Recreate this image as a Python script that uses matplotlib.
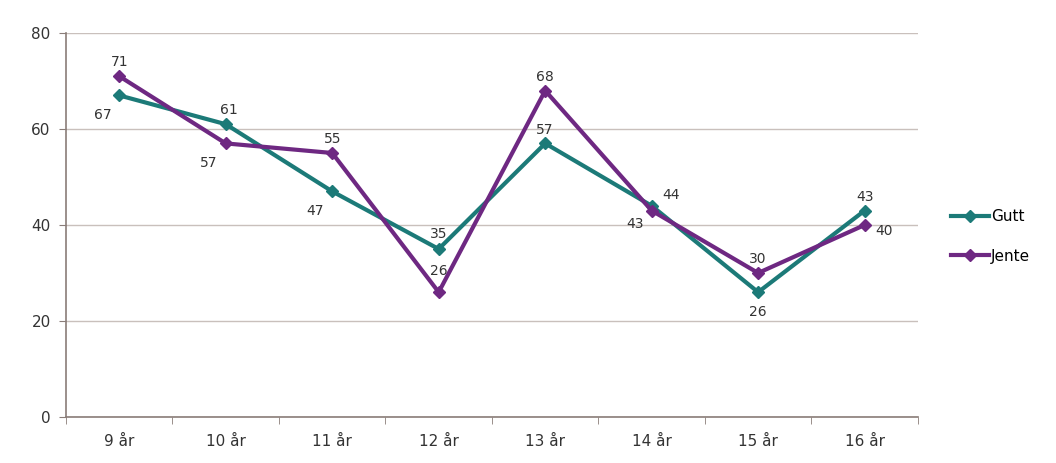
import matplotlib.pyplot as plt
import numpy as np

categories = ["9 år", "10 år", "11 år", "12 år", "13 år", "14 år", "15 år", "16 år"]
gutt  = [67, 61, 47, 35, 57, 44, 26, 43]
jente = [71, 57, 55, 26, 68, 43, 30, 40]

# label offsets in points (dx, dy)
gutt_off  = [(-12, -14), (2, 10), (-12, -14), (0, 11), (0, 10), (14, 8), (0, -14), (0, 10)]
jente_off = [(0, 10), (-12, -14), (0, 10), (0, 15), (0, 10), (-12, -10), (0, 10), (14, -4)]

c_gutt = "#1c7a78"
c_jente = "#6e2882"
axis_col = "#8a7d78"

plt.rcParams["font.family"] = ["DejaVu Sans"]

fig = plt.figure(figsize=(10.56, 4.63), dpi=100)
ax = fig.add_axes([0.0625, 0.0994, 0.8067, 0.8293])

x = np.arange(len(categories))
ax.plot(x, gutt, color=c_gutt, lw=3, marker="D", ms=6, label="Gutt")
ax.plot(x, jente, color=c_jente, lw=3, marker="D", ms=6, label="Jente")

for xi, v, (dx, dy) in zip(x, gutt, gutt_off):
    ax.annotate(str(v), (xi, v), xytext=(dx, dy), textcoords="offset points",
                ha="center", va="center", fontsize=10, color="#333333")
for xi, v, (dx, dy) in zip(x, jente, jente_off):
    ax.annotate(str(v), (xi, v), xytext=(dx, dy), textcoords="offset points",
                ha="center", va="center", fontsize=10, color="#333333")

ax.set_xlim(-0.5, len(categories) - 0.5)
ax.set_ylim(0, 80)
ax.set_yticks([0, 20, 40, 60, 80])
ax.set_xticks(x)
ax.set_xticklabels(categories)
ax.set_xticks(np.arange(-0.5, len(categories)), minor=True)
ax.tick_params(axis="x", which="major", length=0, pad=12, labelsize=11, colors="#333333")
ax.tick_params(axis="x", which="minor", length=5, color=axis_col)
ax.tick_params(axis="y", length=5, color=axis_col, labelsize=11, labelcolor="#333333", pad=6)

ax.grid(axis="y", color="#c9c0bc", lw=1)
ax.set_axisbelow(True)
for s in ["top", "right"]:
    ax.spines[s].set_visible(False)
for s in ["left", "bottom"]:
    ax.spines[s].set_color(axis_col)
    ax.spines[s].set_linewidth(1.2)

ax.legend(loc="center left", bbox_to_anchor=(1.03, 0.47), frameon=False, borderpad=0,
          fontsize=11, handlelength=2.5, labelspacing=1.6, handletextpad=0.1)

fig.savefig("out.png", dpi=100)
